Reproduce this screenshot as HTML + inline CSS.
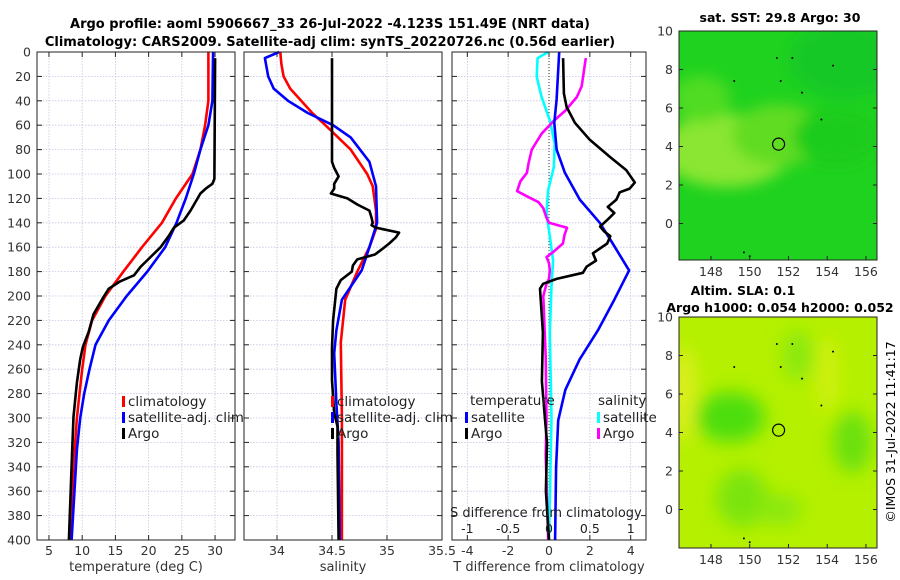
<!DOCTYPE html>
<html><head><meta charset="utf-8">
<style>
html,body{margin:0;padding:0;background:#fff;}
svg{display:block;font-family:"DejaVu Sans","Liberation Sans",sans-serif;}
</style></head>
<body>
<svg id="fig" width="900" height="580" viewBox="0 0 900 580" xmlns="http://www.w3.org/2000/svg">
<defs>
<filter id="blur1" x="-50%" y="-50%" width="200%" height="200%"><feGaussianBlur stdDeviation="7"/></filter>
<filter id="blur2" x="-50%" y="-50%" width="200%" height="200%"><feGaussianBlur stdDeviation="9"/></filter>
<clipPath id="clipTop"><rect x="679" y="31" width="198" height="229"/></clipPath>
<clipPath id="clipBot"><rect x="679" y="317" width="198" height="231"/></clipPath>
</defs>
<text x="330" y="28" text-anchor="middle" font-size="13" font-weight="bold">Argo profile: aoml 5906667_33 26-Jul-2022 -4.123S 151.49E (NRT data)</text>
<text x="330" y="46" text-anchor="middle" font-size="13" font-weight="bold">Climatology: CARS2009. Satellite-adj clim: synTS_20220726.nc (0.56d earlier)</text>
<g id="plots"></g>
<text transform="translate(895,432) rotate(-90)" text-anchor="middle" font-size="12.5">©IMOS 31-Jul-2022 11:41:17</text>
</svg>
<script>
// ---- data (depth in m) ----
const depthTclim = [0,40,60,80,100,120,140,160,180,200,220,240,260,280,300,340,400];
const tempClim   = [29.0,29.0,28.5,27.8,26.6,24.1,22.0,19.0,16.2,13.5,11.5,10.5,10.0,9.6,9.2,8.7,8.2];
const depthTsat  = [0,40,60,80,100,120,140,160,180,200,220,240,260,280,300,326,400];
const tempSat    = [29.7,29.6,29.0,27.8,26.8,25.6,24.2,22.5,19.8,16.7,14.0,12.0,11.1,10.3,9.7,9.2,8.4];
const depthTargo = [5,104,108,112,116,130,138,144,151,160,168,176,183,188,194,201,215,229,242,252,271,299,326,400];
const tempArgo   = [30.0,29.9,29.6,28.6,27.8,26.3,25.3,23.8,23.0,21.8,20.3,18.8,17.8,15.7,14.0,13.2,11.7,11.0,10.1,9.7,9.2,8.7,8.5,8.0];

const depthSclim = [0,10,20,30,40,50,60,80,100,110,130,145,160,180,203,238,300,400];
const salClim    = [34.03,34.04,34.06,34.12,34.22,34.32,34.44,34.67,34.82,34.87,34.90,34.90,34.84,34.73,34.62,34.58,34.59,34.59];
const depthSsat  = [0,5,20,30,40,50,60,70,90,110,140,160,179,203,228,247,288,320,400];
const salSat     = [34.02,33.89,33.92,33.97,34.10,34.28,34.51,34.67,34.84,34.90,34.91,34.84,34.77,34.59,34.54,34.52,34.54,34.56,34.57];
const depthSargo = [5,90,95,102,108,112,116,120,125,130,136,140,142,144,148,152,157,162,166,170,175,180,187,194,220,242,269,296,307,329,400];
const salArgo    = [34.50,34.50,34.52,34.56,34.52,34.52,34.49,34.64,34.73,34.84,34.86,34.87,34.86,34.90,35.11,35.08,35.02,34.95,34.89,34.73,34.69,34.68,34.58,34.54,34.51,34.50,34.50,34.52,34.55,34.55,34.56];

const depthDTsat = [0,39,58,80,99,121,140,157,179,203,228,252,277,302,340,400];
const dTsat      = [0.50,0.37,0.26,0.37,0.78,1.51,2.49,3.12,3.92,3.2,2.4,1.5,0.8,0.45,0.35,0.3];
const depthDTargo= [5,34,45,58,72,86,97,107,112,115,121,127,132,137,143,147,151,157,165,171,176,181,186,190,194,230,270,300,320,360,400];
const dTargo     = [0.69,0.73,0.86,1.27,2.0,2.98,3.79,4.2,3.95,3.46,3.3,2.88,3.2,2.9,2.5,2.7,3.0,2.85,2.15,2.3,1.84,1.66,0.37,-0.29,-0.44,-0.3,-0.35,-0.2,-0.1,-0.15,0.0];
const depthDSsat = [0,5,20,37,56,75,94,113,132,151,171,192,230,300,400];
const dSsat      = [-0.01,-0.14,-0.15,-0.09,0.01,0.07,0.06,-0.01,-0.03,0.01,0.05,0.03,0.01,0.03,0.0];
const depthDSargo= [5,28,37,48,57,67,80,91,99,106,114,119,123,128,136,140,144,150,157,164,168,173,179,186,190,200,250,300,330,400];
const dSargo     = [0.45,0.40,0.34,0.2,0.05,-0.09,-0.21,-0.25,-0.27,-0.35,-0.39,-0.25,-0.13,-0.07,-0.03,0.0,0.22,0.19,0.17,0.05,-0.03,0.0,0.01,0.0,-0.03,-0.07,-0.04,-0.03,-0.04,-0.01];

const depthTicks = [0,20,40,60,80,100,120,140,160,180,200,220,240,260,280,300,320,340,360,380,400];
const tTicks = [5,10,15,20,25,30];
const sTicks = [34,34.5,35,35.5];
const dTTicks = [-4,-2,0,2,4];
const dSTicks = [-1,-0.5,0,0.5,1];
const lonTicks = [148,150,152,154,156];
const latTicks = [10,8,6,4,2,0];

const NS='http://www.w3.org/2000/svg';
const root=document.getElementById('plots');
function mk(tag,attrs,parent){const e=document.createElementNS(NS,tag);for(const k in attrs)e.setAttribute(k,attrs[k]);(parent||root).appendChild(e);return e;}

const Y0=52,Y1=540;
const yD=d=>Y0+(d/400)*(Y1-Y0);

function panel(name,x0,x1,xmin,xmax,xticks,labelFn,xlabel){
  const g=mk('g',{});
  
  
  const xs=v=>x0+(v-xmin)/(xmax-xmin)*(x1-x0);
  depthTicks.forEach(d=>{const l=mk('line',{x1:x0,x2:x1,y1:yD(d),y2:yD(d),stroke:'#c4c4e4','stroke-width':0.8,'stroke-dasharray':'1.5,1.5'},g);});
  xticks.forEach(v=>{const X=xs(v);if(X<=x0+1||X>=x1-1)return;const l=mk('line',{x1:X,x2:X,y1:Y0,y2:Y1,stroke:'#c4c4e4','stroke-width':0.8,'stroke-dasharray':'1.5,1.5'},g);});
  depthTicks.forEach(d=>{mk('line',{x1:x0,x2:x0+5,y1:yD(d),y2:yD(d),stroke:'#222'},g);mk('line',{x1:x1-5,x2:x1,y1:yD(d),y2:yD(d),stroke:'#222'},g);});
  xticks.forEach(v=>{const X=xs(v);mk('line',{x1:X,x2:X,y1:Y1,y2:Y1-5,stroke:'#222'},g);mk('line',{x1:X,x2:X,y1:Y0,y2:Y0+5,stroke:'#222'},g);
    const t=mk('text',{x:X,y:555,'text-anchor':'middle','font-size':12.5,fill:'#333'},g);t.textContent=labelFn(v);
    });
  const xl=mk('text',{x:(x0+x1)/2,y:571,'text-anchor':'middle','font-size':13,fill:'#333'},g);xl.textContent=xlabel;
  
  return {g,xs};
}
function line(g,xs,xv,dv,color,name){
  const p=xv.map((v,i)=>(i?'L':'M')+xs(v).toFixed(1)+','+yD(dv[i]).toFixed(1)).join('');
  const e=mk('path',{d:p,fill:'none',stroke:color,'stroke-width':2.6,'stroke-linejoin':'round'},g);
  
  
}
function frame(g,x0,x1){mk('rect',{x:x0,y:Y0,width:x1-x0,height:Y1-Y0,fill:'none',stroke:'#222','stroke-width':1},g);}
function legendEntry(g,x,y,color,label,name){
  mk('rect',{x:x,y:y-10,width:3,height:11,fill:color},g);
  const t=mk('text',{x:x+6,y:y,'font-size':13.5,fill:'#222'},g);t.textContent=label;
  
}

depthTicks.forEach(d=>{const t=mk('text',{x:31,y:yD(d)+4.5,'text-anchor':'end','font-size':12.5,fill:'#333'});t.textContent=d;
  });

// Panel 1
let P=panel('temperature-panel',37,235,3.2,33,tTicks,v=>v,'temperature (deg C)');
line(P.g,P.xs,tempClim,depthTclim,'#ff0000','temp-climatology-line');
line(P.g,P.xs,tempSat,depthTsat,'#0000ff','temp-satellite-line');
line(P.g,P.xs,tempArgo,depthTargo,'#000000','temp-argo-line');
frame(P.g,37,235);
legendEntry(P.g,122,406,'#ff0000','climatology','legend-climatology');
legendEntry(P.g,122,422,'#0000ff','satellite-adj. clim','legend-satellite');
legendEntry(P.g,122,438,'#000000','Argo','legend-argo');

// Panel 2
P=panel('salinity-panel',244,442,33.7,35.5,sTicks,v=>v,'salinity');
line(P.g,P.xs,salClim,depthSclim,'#ff0000','sal-climatology-line');
line(P.g,P.xs,salSat,depthSsat,'#0000ff','sal-satellite-line');
line(P.g,P.xs,salArgo,depthSargo,'#000000','sal-argo-line');
frame(P.g,244,442);
legendEntry(P.g,331,406,'#ff0000','climatology','legend-climatology');
legendEntry(P.g,331,422,'#0000ff','satellite-adj. clim','legend-satellite');
legendEntry(P.g,331,438,'#000000','Argo','legend-argo');

// Panel 3
P=panel('difference-panel',452,646,-4.75,4.75,dTTicks,v=>v,'T difference from climatology');
const z=mk('line',{x1:P.xs(0),x2:P.xs(0),y1:Y0,y2:Y1,stroke:'#333','stroke-width':1,'stroke-dasharray':'1,2'},P.g);

const xsS=v=>P.xs(v*4);
line(P.g,xsS,dSsat,depthDSsat,'#00ffff','sal-diff-satellite-line');
line(P.g,xsS,dSargo,depthDSargo,'#ff00ff','sal-diff-argo-line');
line(P.g,P.xs,dTsat,depthDTsat,'#0000ff','temp-diff-satellite-line');
line(P.g,P.xs,dTargo,depthDTargo,'#000000','temp-diff-argo-line');
frame(P.g,452,646);
dSTicks.forEach(v=>{const t=mk('text',{x:xsS(v),y:533,'text-anchor':'middle','font-size':12.5,fill:'#222'},P.g);t.textContent=v;
  });
let st=mk('text',{x:450,y:517,'font-size':13,fill:'#222'},P.g);st.textContent='S difference from climatology';

let lt=mk('text',{x:470,y:405,'font-size':13.5,fill:'#222'},P.g);lt.textContent='temperature';

let ls=mk('text',{x:598,y:405,'font-size':13.5,fill:'#222'},P.g);ls.textContent='salinity';

legendEntry(P.g,465,422,'#0000ff','satellite','legend-t-satellite');
legendEntry(P.g,465,438,'#000000','Argo','legend-t-argo');
legendEntry(P.g,597,422,'#00ffff','satellite','legend-s-satellite');
legendEntry(P.g,597,438,'#ff00ff','Argo','legend-s-argo');

// ---- maps ----
const lonMin=146.35,lonMax=156.57;
function mapAxes(name,y0,y1,clip,base,blobs,blurId){
  const g=mk('g',{});
  
  
  const latBot=10-(y1-y0)/19.25;
  const xs=v=>679+(v-lonMin)/(lonMax-lonMin)*198;
  const ys=v=>y0+(10-v)/(10-latBot)*(y1-y0);
  const inner=mk('g',{'clip-path':'url(#'+clip+')'},g);
  mk('rect',{x:679,y:y0,width:198,height:y1-y0,fill:base},inner);
  const bg=mk('g',{filter:'url(#'+blurId+')'},inner);
  blobs.forEach(b=>mk('ellipse',{cx:xs(b[0]),cy:ys(b[1]),rx:b[2]*19.3,ry:b[3]*19.3,fill:b[4]},bg));
  [[151.6,7.4],[151.4,8.6],[152.2,8.6],[154.3,8.2],[149.2,7.4],[153.7,5.4],[152.7,6.8],[149.7,-1.5],[150,-1.7]].forEach(p=>mk('circle',{cx:xs(p[0]),cy:ys(p[1]),r:1,fill:'#000'},inner));
  const c=mk('circle',{cx:xs(151.49),cy:ys(4.123),r:6,fill:'none',stroke:'#000','stroke-width':1.2},g);
  
  mk('rect',{x:679,y:y0,width:198,height:y1-y0,fill:'none',stroke:'#222'},g);
  lonTicks.forEach(v=>{const X=xs(v);mk('line',{x1:X,x2:X,y1:y1,y2:y1-4,stroke:'#222'},g);
    const t=mk('text',{x:X,y:y1+16,'text-anchor':'middle','font-size':12.5,fill:'#333'},g);t.textContent=v;
    });
  latTicks.forEach(v=>{const Y=ys(v);mk('line',{x1:679,x2:683,y1:Y,y2:Y,stroke:'#222'},g);mk('line',{x1:873,x2:877,y1:Y,y2:Y,stroke:'#222'},g);
    const t=mk('text',{x:673,y:Y+4.5,'text-anchor':'end','font-size':12.5,fill:'#333'},g);t.textContent=v;
    });
  return g;
}
mapAxes('sst-map',31,260,'clipTop','#1fd21f',[
  [148.8,3.8,3.4,1.9,'#8ae630'],[151.5,4.6,2.4,1.6,'#60dc22'],[147.5,6.5,1.5,1.2,'#50dc24'],[155,8.5,3,2,'#18c828'],[154.5,4.5,2.2,1.5,'#1ccc1c']
],'blur1');
mapAxes('sla-map',317,548,'clipBot','#b4f000',[
  [149,4.8,1.8,1.3,'#4ede10'],[149.6,0.6,1.3,1.5,'#7ae410'],[155.3,3.5,1,1.6,'#6ae010'],[152.5,8,0.8,1.3,'#8ae810'],[151.5,0,1.2,0.8,'#8ae810'],[146.6,6,0.6,2.5,'#e0ee20'],[154,7,0.6,2,'#d0f010']
],'blur2');
[['sat. SST: 29.8 Argo: 30',780,22,'sst-map-title'],['Altim. SLA: 0.1',743,295,'sla-map-title'],['Argo h1000: 0.054 h2000: 0.052',780,312,'sla-map-subtitle']].forEach(a=>{
  const t=mk('text',{x:a[1],y:a[2],'text-anchor':'middle','font-size':12.5,'font-weight':'bold'});t.textContent=a[0];
  });
</script>
</body></html>
